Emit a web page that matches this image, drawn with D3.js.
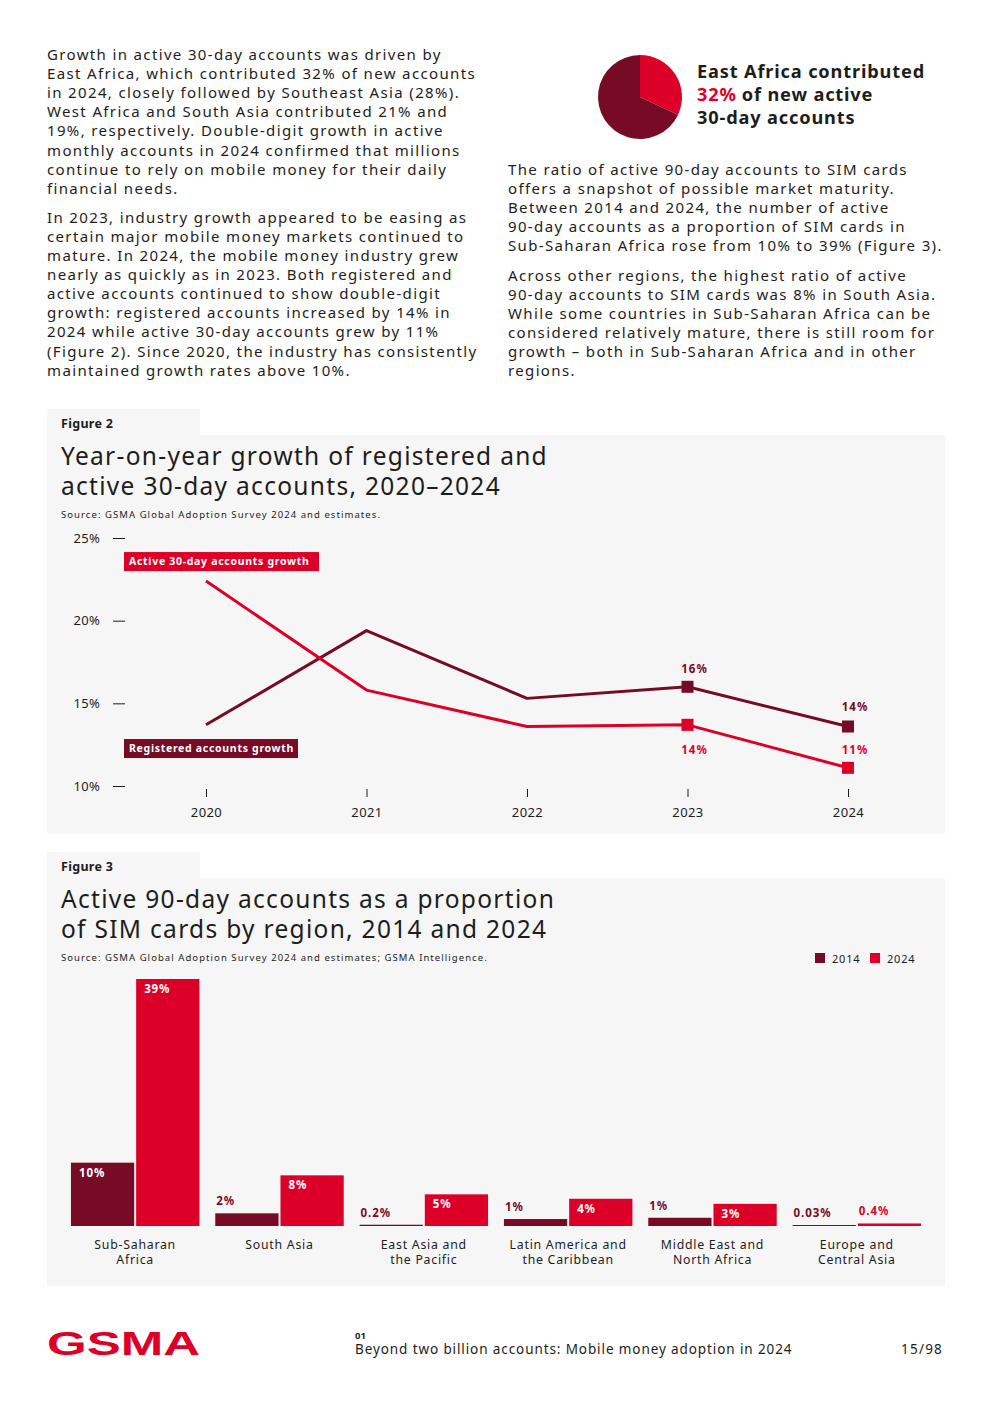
<!DOCTYPE html>
<html>
<head>
<meta charset="utf-8">
<script src="https://cdn.jsdelivr.net/npm/d3@7"></script>
<style>
  body { margin: 0; background: #fff; }
  svg { display: block; font-family: "Noto Sans", sans-serif; }
</style>
</head>
<body>
<div id="page"></div>
<script>
// Figure 2 data
const years = ["2020", "2021", "2022", "2023", "2024"];
const activeGrowth = [22.4, 15.8, 13.6, 13.7, 11.1];
const registeredGrowth = [13.7, 19.4, 15.3, 16.0, 13.6];
const yTicks = [10, 15, 20, 25];

// Figure 3 data
const regions = [
  ["Sub-Saharan", "Africa"],
  ["South Asia"],
  ["East Asia and", "the Pacific"],
  ["Latin America and", "the Caribbean"],
  ["Middle East and", "North Africa"],
  ["Europe and", "Central Asia"]
];
const ratio2014 = [10, 2, 0.2, 1.1, 1.3, 0.03];
const ratio2024 = [39, 8, 5, 4.3, 3.5, 0.4];
const labels2014 = ["10%", "2%", "0.2%", "1%", "1%", "0.03%"];
const labels2024 = ["39%", "8%", "5%", "4%", "3%", "0.4%"];

// pie callout
const eastAfricaShare = 32;

const red = "#dc0029", dark = "#770a24", ink = "#1d1d1b", panel = "#f6f6f6";

const leftText = [
  ["Growth in active 30-day accounts was driven by",
   "East Africa, which contributed 32% of new accounts",
   "in 2024, closely followed by Southeast Asia (28%).",
   "West Africa and South Asia contributed 21% and",
   "19%, respectively. Double-digit growth in active",
   "monthly accounts in 2024 confirmed that millions",
   "continue to rely on mobile money for their daily",
   "financial needs."],
  ["In 2023, industry growth appeared to be easing as",
   "certain major mobile money markets continued to",
   "mature. In 2024, the mobile money industry grew",
   "nearly as quickly as in 2023. Both registered and",
   "active accounts continued to show double-digit",
   "growth: registered accounts increased by 14% in",
   "2024 while active 30-day accounts grew by 11%",
   "(Figure 2). Since 2020, the industry has consistently",
   "maintained growth rates above 10%."]
];
const rightText = [
  ["The ratio of active 90-day accounts to SIM cards",
   "offers a snapshot of possible market maturity.",
   "Between 2014 and 2024, the number of active",
   "90-day accounts as a proportion of SIM cards in",
   "Sub-Saharan Africa rose from 10% to 39% (Figure 3)."],
  ["Across other regions, the highest ratio of active",
   "90-day accounts to SIM cards was 8% in South Asia.",
   "While some countries in Sub-Saharan Africa can be",
   "considered relatively mature, there is still room for",
   "growth \u2013 both in Sub-Saharan Africa and in other",
   "regions."]
];

const svg = d3.select("#page").append("svg")
  .attr("width", 992).attr("height", 1403);
svg.append("rect").attr("width", 992).attr("height", 1403).attr("fill", "#fff");

// letter-spacing that makes a sample string reach a target width
function fitLS(sample, size, weight, target) {
  const t = svg.append("text").attr("font-size", size).attr("font-weight", weight).text(sample);
  const w = t.node().getComputedTextLength();
  t.remove();
  return (target - w) / sample.length;
}

// body paragraphs
const bodyLS = fitLS("East Africa, which contributed 32% of new accounts", 15, 400, 429);
function paragraphs(x, y0, paras, gap) {
  let y = y0;
  paras.forEach(p => {
    p.forEach(line => {
      svg.append("text").attr("x", x).attr("y", y)
        .attr("font-size", 15).attr("letter-spacing", bodyLS)
        .attr("fill", ink).text(line);
      y += 19.1;
    });
    y += gap;
  });
}
paragraphs(47, 60, leftText, 10);
paragraphs(508, 175, rightText, 10);

// pie
const pie = d3.pie().sort(null)([eastAfricaShare, 100 - eastAfricaShare]);
const arc = d3.arc().innerRadius(0).outerRadius(42);
svg.append("g").attr("transform", "translate(640,97)")
  .selectAll("path").data(pie).join("path")
  .attr("d", arc).attr("fill", (d, i) => i === 0 ? red : dark);

const callSize = 18.2;
const callLS = fitLS("East Africa contributed", callSize, 700, 228);
function callLine(x, y, txt, c) {
  return svg.append("text").attr("x", x).attr("y", y).attr("font-weight", 700)
    .attr("font-size", callSize).attr("letter-spacing", callLS).attr("fill", c).text(txt);
}
callLine(697, 78, "East Africa contributed", ink);
const pct = callLine(697, 101, eastAfricaShare + "%", red);
callLine(697 + pct.node().getComputedTextLength() + 5, 101, "of new active", ink);
callLine(697, 124, "30-day accounts", ink);

// panel helper
const titleSize = 24.5;
const titleLS = fitLS("Year-on-year growth of registered and", titleSize, 400, 487);
const srcLS = fitLS("Source: GSMA Global Adoption Survey 2024 and estimates.", 9.5, 400, 320);
function panelBox(y, h, fig, titleLines, source) {
  svg.append("rect").attr("x", 47).attr("y", y - 26).attr("width", 153).attr("height", 27).attr("fill", panel);
  svg.append("rect").attr("x", 47).attr("y", y).attr("width", 898).attr("height", h).attr("fill", panel);
  svg.append("text").attr("x", 61).attr("y", y - 7).attr("font-size", 12.5)
    .attr("font-weight", 700).attr("letter-spacing", 0.3).attr("fill", ink).text(fig);
  titleLines.forEach((t, i) => {
    svg.append("text").attr("x", 61).attr("y", y + 30 + i * 30).attr("font-size", titleSize)
      .attr("letter-spacing", titleLS).attr("fill", ink).text(t);
  });
  svg.append("text").attr("x", 61).attr("y", y + 83).attr("font-size", 9.5)
    .attr("letter-spacing", srcLS).attr("fill", ink).text(source);
}

// ---------- Figure 2 ----------
panelBox(435, 399, "Figure 2",
  ["Year-on-year growth of registered and", "active 30-day accounts, 2020\u20132024"],
  "Source: GSMA Global Adoption Survey 2024 and estimates.");

const x2 = d3.scalePoint().domain(years).range([206, 848]);
const y2 = d3.scaleLinear().domain([10, 25]).range([786, 538]);

const yAx = svg.append("g").attr("transform", "translate(125,0)")
  .call(d3.axisLeft(y2).tickValues(yTicks).tickSize(12).tickPadding(13).tickFormat(d => d + "%"));
yAx.select(".domain").remove();
yAx.selectAll("line").attr("stroke", ink);
yAx.selectAll("text").attr("font-size", 13).attr("letter-spacing", 0.3).attr("fill", ink).attr("font-family", "Noto Sans");

const xAx = svg.append("g").attr("transform", "translate(0,789)")
  .call(d3.axisBottom(x2).tickSize(8).tickPadding(11));
xAx.select(".domain").remove();
xAx.selectAll("line").attr("stroke", ink);
xAx.selectAll("text").attr("font-size", 13).attr("letter-spacing", 0.4).attr("fill", ink).attr("font-family", "Noto Sans");

const line = d3.line().x((d, i) => x2(years[i])).y(d => y2(d));
[[registeredGrowth, dark], [activeGrowth, red]].forEach(([s, c]) => {
  svg.append("path").attr("d", line(s)).attr("fill", "none")
    .attr("stroke", c).attr("stroke-width", 3).attr("stroke-linejoin", "round");
  svg.selectAll(null).data(s.slice(3)).join("rect")
    .attr("x", (d, i) => x2(years[i + 3]) - 6).attr("y", d => y2(d) - 6)
    .attr("width", 12).attr("height", 12).attr("fill", c);
});

// value labels
const valueLabels = [
  ["2023", registeredGrowth[3], "16%", dark, -14],
  ["2024", registeredGrowth[4], "14%", dark, -15],
  ["2023", activeGrowth[3], "14%", red, 29],
  ["2024", activeGrowth[4], "11%", red, -14]
];
valueLabels.forEach(([yr, v, t, c, dy]) => {
  svg.append("text").attr("x", x2(yr) + 7).attr("y", y2(v) + dy)
    .attr("text-anchor", "middle").attr("font-size", 11.5).attr("font-weight", 700)
    .attr("letter-spacing", 1).attr("fill", c).text(t);
});

// series tags
function tag(xp, yp, w, txt, c) {
  svg.append("rect").attr("x", xp).attr("y", yp).attr("width", w).attr("height", 19).attr("fill", c);
  svg.append("text").attr("x", xp + 5).attr("y", yp + 13).attr("font-size", 10.5)
    .attr("font-weight", 700).attr("letter-spacing", 0.7).attr("fill", "#fff").text(txt);
}
tag(124, y2(24.15), 195, "Active 30-day accounts growth", red);
tag(124, y2(12.84), 174, "Registered accounts growth", dark);

// ---------- Figure 3 ----------
panelBox(878, 408, "Figure 3",
  ["Active 90-day accounts as a proportion", "of SIM cards by region, 2014 and 2024"],
  "Source: GSMA Global Adoption Survey 2024 and estimates; GSMA Intelligence.");

// legend
[["2014", dark, 815], ["2024", red, 870]].forEach(([t, c, lx]) => {
  svg.append("rect").attr("x", lx).attr("y", 953).attr("width", 10).attr("height", 10).attr("fill", c);
  svg.append("text").attr("x", lx + 17).attr("y", 962.5).attr("font-size", 11)
    .attr("letter-spacing", 0.8).attr("fill", ink).text(t);
});

const keys = regions.map(r => r.join(" "));
const x3 = d3.scaleBand().domain(keys).range([63, 929]).paddingInner(0.11).paddingOuter(0.055);
const xs = d3.scaleBand().domain(["2014", "2024"]).range([0, x3.bandwidth()]).paddingInner(0.03);
const y3 = d3.scaleLinear().domain([0, 39]).range([1226, 979]);

const series = [
  ["2014", ratio2014, labels2014, dark],
  ["2024", ratio2024, labels2024, red]
];
series.forEach(([yr, vals, labs, c]) => {
  const g = svg.append("g");
  const inside = d => y3(0) - y3(d) > 20;
  g.selectAll("rect").data(vals).join("rect")
    .attr("x", (d, i) => x3(keys[i]) + xs(yr))
    .attr("y", d => Math.min(y3(d), 1225))
    .attr("width", xs.bandwidth())
    .attr("height", d => Math.max(y3(0) - y3(d), 1))
    .attr("fill", c);
  g.selectAll("text").data(vals).join("text")
    .attr("x", (d, i) => x3(keys[i]) + xs(yr) + (inside(d) ? 8 : 1))
    .attr("y", d => inside(d) ? y3(d) + 14 : Math.min(y3(d), 1225) - 8)
    .attr("font-size", 11.5).attr("font-weight", 700).attr("letter-spacing", 0.9)
    .attr("fill", d => inside(d) ? "#fff" : c)
    .text((d, i) => labs[i]);
});

regions.forEach((r, i) => {
  r.forEach((t, j) => {
    svg.append("text").attr("x", x3(keys[i]) + x3.bandwidth() / 2).attr("y", 1249 + j * 15)
      .attr("text-anchor", "middle").attr("font-size", 12.3).attr("letter-spacing", 0.75)
      .attr("fill", ink).text(t);
  });
});

// ---------- footer ----------
svg.append("text").attr("x", 47).attr("y", 1355).attr("font-family", "Liberation Sans")
  .attr("font-weight", 700).attr("font-size", 33)
  .attr("textLength", 153).attr("lengthAdjust", "spacingAndGlyphs")
  .attr("fill", red).text("GSMA");
svg.append("text").attr("x", 355).attr("y", 1339).attr("font-size", 9.5).attr("font-weight", 700)
  .attr("fill", ink).text("01");
svg.append("text").attr("x", 355).attr("y", 1354).attr("font-size", 13.5).attr("letter-spacing", 0.9)
  .attr("fill", ink).text("Beyond two billion accounts: Mobile money adoption in 2024");
svg.append("text").attr("x", 943).attr("y", 1354).attr("text-anchor", "end").attr("font-size", 13.5)
  .attr("letter-spacing", 1.2).attr("fill", ink).text("15/98");
</script>
</body>
</html>
